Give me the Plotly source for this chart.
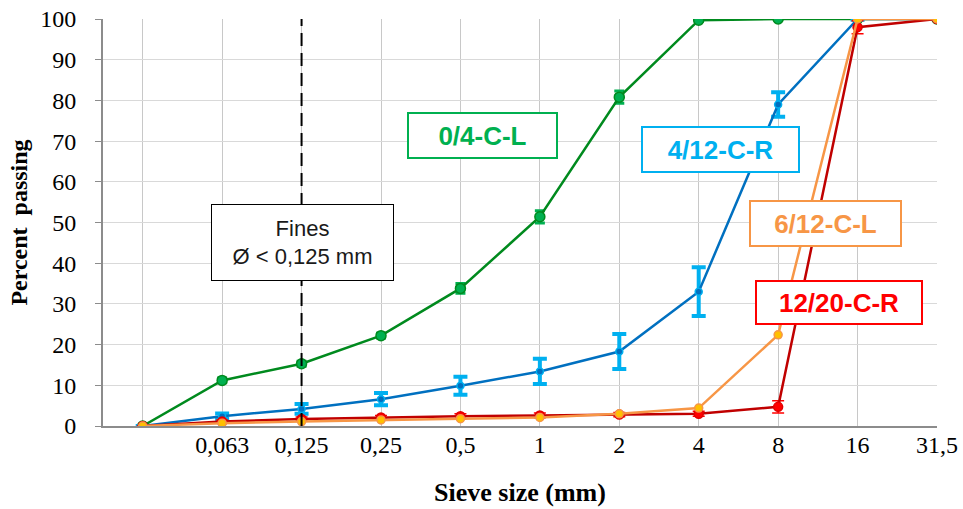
import plotly.graph_objects as go

sieve_labels = ["", "0,063", "0,125", "0,25", "0,5", "1", "2", "4", "8", "16", "31,5"]
positions = list(range(len(sieve_labels)))

green_vals = [0, 11.2, 15.3, 22.2, 33.8, 51.4, 80.8, 99.7, 100, 100, 100]
green_err = [0, 0.6, 0.6, 0.6, 1.2, 1.5, 1.5, 0.3, 0.2, 0.2, 0]

blue_vals = [0, 2.4, 4.2, 6.6, 9.9, 13.4, 18.3, 33.0, 79.0, 100, 100]
blue_err = [0, 0.7, 1.2, 1.5, 2.2, 3.1, 4.3, 6.0, 3.0, 0.2, 0]

red_vals = [0, 1.1, 1.7, 2.1, 2.4, 2.6, 2.8, 3.0, 4.7, 98.0, 100]
red_err = [0, 0.4, 0.5, 0.5, 0.6, 0.6, 0.5, 0.6, 1.5, 1.6, 0]

orange_vals = [0, 0.7, 1.1, 1.5, 1.8, 2.1, 3.0, 4.4, 22.4, 100, 100]
orange_err = [0, 0, 0, 0, 0, 0, 0, 0, 0, 0, 0]

y_ticks = list(range(0, 101, 10))

fig = go.Figure()

def add_series(vals, err, line_color, marker_color, marker_line, err_color, msize, err_thick, err_width, lw):
    fig.add_trace(go.Scatter(
        x=positions, y=vals, mode="lines+markers",
        line=dict(color=line_color, width=lw),
        marker=dict(size=msize, color=marker_color, line=dict(color=marker_line, width=1.5)),
        error_y=dict(type="data", array=err, visible=True, color=err_color,
                     thickness=err_thick, width=err_width),
        showlegend=False, hoverinfo="skip"))

add_series(green_vals, green_err, "#008A1E", "#00B050", "#008A1E", "#00B050", 10, 3, 5, 2.5)
add_series(blue_vals, blue_err, "#0070C0", "#0070C0", "#00B0F0", "#00B0F0", 7, 4, 7, 2.5)
add_series(red_vals, red_err, "#C00000", "#FF0000", "#E00000", "#FF0000", 9, 1.5, 6, 2.5)
add_series(orange_vals, orange_err, "#F79646", "#FFC000", "#F79646", "#F79646", 8, 1, 0, 2.5)

fig.add_shape(type="line", xref="x", yref="y", x0=2, x1=2, y0=0, y1=100,
              line=dict(color="black", width=2, dash="13px,7px"), layer="above")

def box(text, x, y, color, w, h, size, bw=2):
    fig.add_annotation(x=x, y=y, xref="x", yref="y", text="<b>%s</b>" % text,
                       showarrow=False, font=dict(family="Arial, Liberation Sans", size=size, color=color),
                       bgcolor="white", bordercolor=color, borderwidth=bw, borderpad=0,
                       width=w, height=h, align="center", valign="middle")

box("0/4-C-L", 4.28, 71.5, "#00B050", 147, 43, 26)
box("4/12-C-R", 7.27, 67.9, "#00B0F0", 155, 43, 26)
box("6/12-C-L", 8.6, 49.75, "#F79646", 149, 43, 26)
box("12/20-C-R", 8.77, 30.3, "#FF0000", 164, 41, 26)
fig.add_annotation(x=2.01, y=45.1, xref="x", yref="y", text="Fines<br>Ø < 0,125 mm",
                   showarrow=False, font=dict(family="Arial, Liberation Sans", size=22, color="#1a1a1a"),
                   bgcolor="white", bordercolor="black", borderwidth=1, borderpad=0,
                   width=181, height=75, align="center", valign="middle")

serif = "Liberation Serif, Times New Roman, serif"
fig.update_layout(
    width=963, height=509,
    margin=dict(l=103, r=26, t=19, b=83),
    plot_bgcolor="white", paper_bgcolor="white",
    xaxis=dict(range=[-0.5, 10], tickmode="array", tickvals=positions, ticktext=sieve_labels,
               showgrid=True, gridcolor="#C8C8C8", gridwidth=1,
               showline=True, linecolor="#8C8C8C", linewidth=2, mirror=False,
               ticks="", zeroline=False, automargin=False, ticklabelstandoff=-4,
               tickfont=dict(family=serif, size=24, color="black"),
               title=dict(text="<b>Sieve size (mm)</b>", font=dict(family=serif, size=26, color="black"), standoff=26)),
    yaxis=dict(range=[0, 100], tickmode="array", tickvals=y_ticks,
               showgrid=True, gridcolor="#D9D9D9", gridwidth=1,
               showline=True, linecolor="#8C8C8C", linewidth=2,
               ticks="outside", ticklen=6, tickcolor="#8C8C8C", tickwidth=1,
               zeroline=False, automargin=False, ticklabelstandoff=14,
               tickfont=dict(family=serif, size=24, color="black"),
               title=dict(text="<b>Percent  passing</b>", font=dict(family=serif, size=24, color="black"), standoff=6)),
)

fig.write_html("out.html")
